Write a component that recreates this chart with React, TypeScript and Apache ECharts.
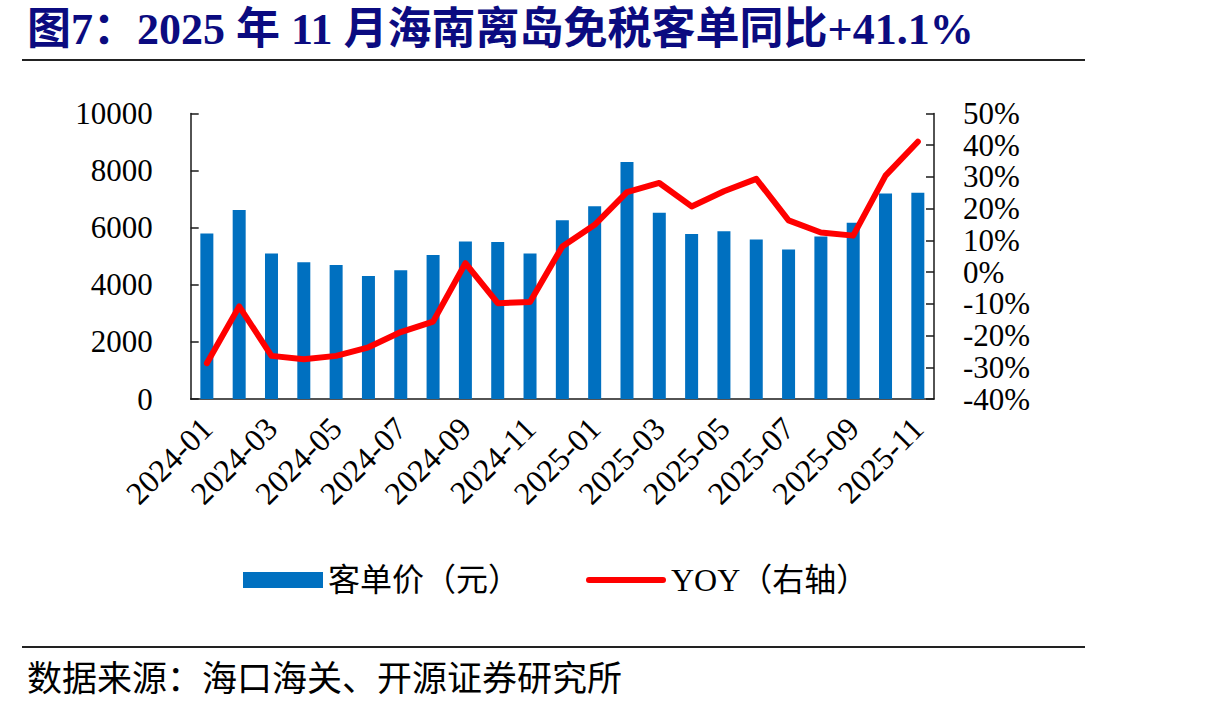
import React, { useEffect, useRef } from "react";
import * as echarts from "echarts";

// Monthly average spend per shopper (yuan) and its year-on-year change (%)
const months = [
  "2024-01", "2024-02", "2024-03", "2024-04", "2024-05", "2024-06",
  "2024-07", "2024-08", "2024-09", "2024-10", "2024-11", "2024-12",
  "2025-01", "2025-02", "2025-03", "2025-04", "2025-05", "2025-06",
  "2025-07", "2025-08", "2025-09", "2025-10", "2025-11",
];
const spendPerShopper = [
  5800, 6620, 5100, 4790, 4690, 4310, 4510, 5040, 5520, 5500, 5100, 6260,
  6750, 8300, 6520, 5780, 5880, 5590, 5240, 5690, 6170, 7200, 7220,
];
const yoyPct = [
  -28.7, -10.8, -26.4, -27.5, -26.4, -23.7, -18.9, -15.6, 2.8, -9.8, -9.4, 8.1,
  14.9, 25.2, 28.1, 20.7, 25.5, 29.4, 16.3, 12.5, 11.5, 30.4, 41.1,
];

const barName = "客单价（元）";
const lineName = "YOY（右轴）";
const titleText = "图7：2025 年 11 月海南离岛免税客单同比+41.1%";
const sourceText = "数据来源：海口海关、开源证券研究所";

const SERIF = '"Liberation Serif", "Times New Roman", "Noto Sans CJK SC", serif';
const AXIS_COLOR = "#1a1a1a";
// thick rounded stroke used as the line's legend key
const LINE_KEY = "path://M3,0 H77 A3,3 0 0 1 77,6 H3 A3,3 0 0 1 3,0 Z";

export default function App() {
  const ref = useRef<HTMLDivElement>(null);

  useEffect(() => {
    if (!ref.current) return;
    const chart = echarts.init(ref.current, undefined, { renderer: "svg" });
    chart.setOption({
      animation: false,
      backgroundColor: "#ffffff",
      textStyle: { fontFamily: SERIF },
      grid: {
        left: 190.7,
        right: 276,
        top: 113.5,
        bottom: 314,
        containLabel: false,
        outerBoundsMode: "none",
      },
      legend: {
        left: 243,
        top: 564,
        padding: 0,
        itemWidth: 80,
        itemHeight: 16,
        itemGap: 66,
        symbolKeepAspect: true,
        textStyle: { fontSize: 32, color: "#000", fontFamily: SERIF },
        data: [
          { name: barName, icon: "rect" },
          { name: lineName, icon: LINE_KEY, itemStyle: { color: "#FF0000" } },
        ],
      },
      xAxis: {
        type: "category",
        data: months,
        boundaryGap: true,
        axisLine: { lineStyle: { color: AXIS_COLOR, width: 1.5 } },
        axisTick: { inside: true, length: 10, interval: 1, lineStyle: { color: AXIS_COLOR, width: 1.5 } },
        axisLabel: {
          interval: 1,
          rotate: 45,
          margin: 24,
          fontSize: 32,
          color: "#000",
          fontFamily: SERIF,
        },
      },
      yAxis: [
        {
          type: "value",
          min: 0,
          max: 10000,
          interval: 2000,
          splitLine: { show: false },
          axisLine: { show: true, lineStyle: { color: AXIS_COLOR, width: 1.5 } },
          axisTick: { show: true, inside: true, length: 8, lineStyle: { color: AXIS_COLOR, width: 1.5 } },
          axisLabel: {
            margin: 38,
            fontSize: 31,
            color: "#000",
            fontFamily: SERIF,
            formatter: (v: number) => String(v),
          },
        },
        {
          type: "value",
          position: "right",
          min: -40,
          max: 50,
          interval: 10,
          splitLine: { show: false },
          axisLine: { show: true, lineStyle: { color: AXIS_COLOR, width: 1.5 } },
          axisTick: { show: true, inside: true, length: 8, lineStyle: { color: AXIS_COLOR, width: 1.5 } },
          axisLabel: { margin: 29, fontSize: 31, color: "#000", fontFamily: SERIF, formatter: "{value}%" },
        },
      ],
      series: [
        {
          name: barName,
          type: "bar",
          data: spendPerShopper,
          yAxisIndex: 0,
          barWidth: 13,
          itemStyle: { color: "#0070C0" },
          z: 2,
        },
        {
          name: lineName,
          type: "line",
          data: yoyPct,
          yAxisIndex: 1,
          symbol: "none",
          showSymbol: false,
          lineStyle: { color: "#FF0000", width: 6, cap: "round", join: "round" },
          itemStyle: { color: "#FF0000" },
          z: 3,
        },
      ],
      graphic: [
        {
          type: "text",
          left: 27,
          top: 7,
          style: {
            text: titleText,
            fill: "#0b0b80",
            fontSize: 44,
            fontWeight: "bold",
            fontFamily: SERIF,
          },
        },
        {
          type: "line",
          shape: { x1: 22, y1: 60, x2: 1085, y2: 60 },
          style: { stroke: "#222", lineWidth: 2 },
        },
        {
          type: "line",
          shape: { x1: 22, y1: 647, x2: 1085, y2: 647 },
          style: { stroke: "#222", lineWidth: 2 },
        },
        {
          type: "text",
          left: 27,
          top: 662,
          style: {
            text: sourceText,
            fill: "#000",
            fontSize: 35,
            fontFamily: SERIF,
          },
        },
      ],
    });
    return () => chart.dispose();
  }, []);

  return (
    <div
      ref={ref}
      style={{ position: "fixed", left: 0, top: 0, width: 1210, height: 713, background: "#fff" }}
    />
  );
}
